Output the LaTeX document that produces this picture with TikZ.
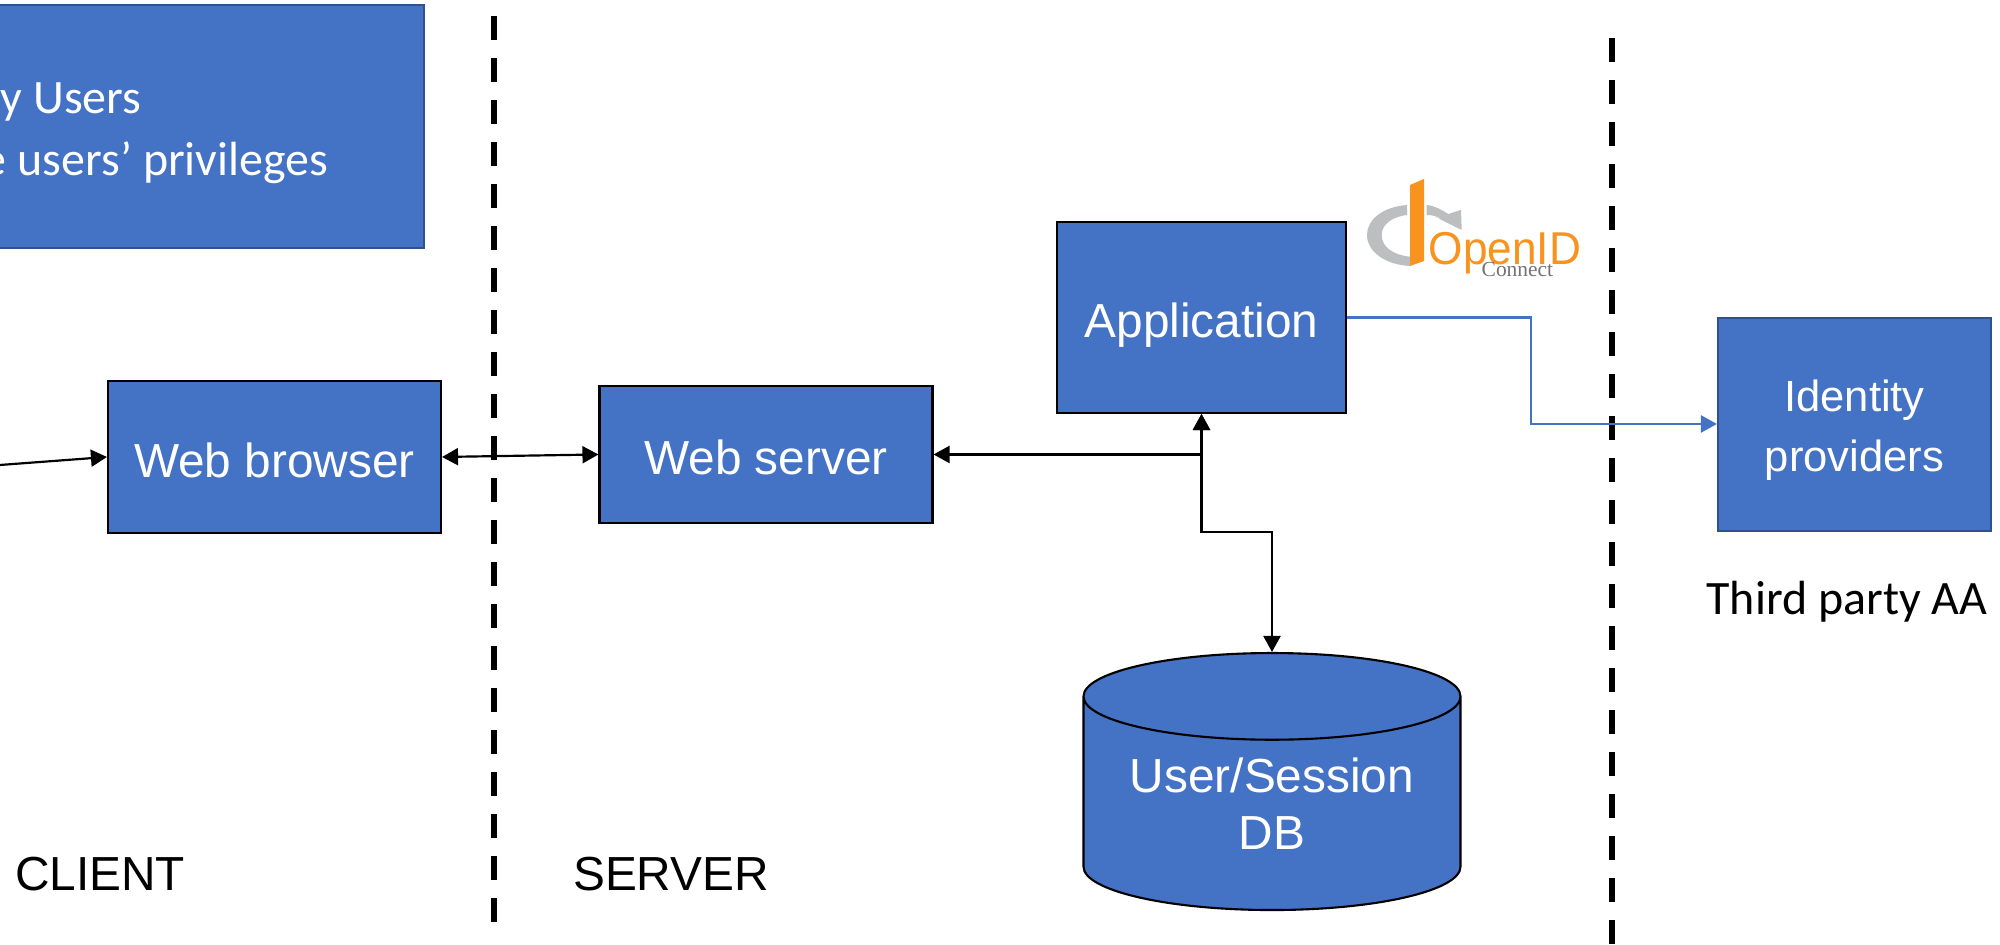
\documentclass[tikz,border=0pt]{standalone}
\usepackage{fontspec}
\setmainfont{Liberation Sans}
\newfontfamily\carlitofont{Carlito}
\newfontfamily\serifont{Liberation Serif}
\usetikzlibrary{arrows.meta,shapes.geometric}
\definecolor{boxblue}{HTML}{4472C4}
\definecolor{edgeblue}{HTML}{2F528F}
\definecolor{logoorange}{HTML}{F7931E}
\definecolor{logogray}{HTML}{BCBEC0}
\tikzset{
    blackbox/.style={draw=black, line width=0.6pt, fill=boxblue, text=white, inner sep=0pt,
        align=center, font=\fontsize{13.6}{16}\selectfont},
    singleline/.style={text height=11.4pt, text depth=0pt},
    bluebox/.style={draw=edgeblue, line width=0.6pt, fill=boxblue, text=white, inner sep=0pt,
        align=center, font=\fontsize{12.4}{17}\selectfont},
    boundary/.style={black, line width=1.7pt, dash pattern=on 0.24cm off 0.18cm},
    caption/.style={inner sep=0pt, font=\fontsize{13.6}{16}\selectfont},
    calibri/.style={inner sep=0pt, font=\carlitofont\fontsize{13.65}{17}\selectfont},
    link/.style={black, line width=0.62pt},
}
\begin{document}
\begin{tikzpicture}[>={Triangle[length=1.6mm,width=1.7mm]}]
    \useasboundingbox (0, 0) rectangle (20, 9.45);
    \clip (0, 0) rectangle (20, 9.45);
    \fill [white] (0, 0) rectangle (20, 9.45);
    % boxes
    \node (manage) [bluebox, minimum width=5.24cm, minimum height=2.43cm] at (1.62, 8.185) {};
    \node (usersa) [calibri, text=white, anchor=base east] at (1.42, 8.31) {y Users};
    \node (usersb) [calibri, text=white, anchor=base east] at (3.29, 7.69) {e users’ privileges};
    \node (browser) [blackbox, singleline, minimum width=3.33cm, minimum height=1.52cm] at (2.745, 4.88) {Web browser};
    \node (server) [blackbox, singleline, minimum width=3.33cm, minimum height=1.37cm] at (7.66, 4.905) {Web server};
    \node (app) [blackbox, singleline, minimum width=2.89cm, minimum height=1.91cm] at (12.015, 6.275) {Application};
    \node (idp) [bluebox, minimum width=2.73cm, minimum height=2.13cm] at (18.545, 5.205) {\rule{0pt}{12.3pt}Identity\\providers};
    \node (db) [blackbox, cylinder, shape border rotate=90, aspect=0.305, minimum width=3.77cm,
        minimum height=2.57cm, anchor=north] at (12.72, 2.93) {User/Session\\DB};
    % captions
    \node (client) [caption] at (1, 0.71) {CLIENT};
    \node (serverside) [caption] at (6.71, 0.71) {SERVER};
    \node (thirdparty) [calibri] at (18.47, 3.43) {Third party AA};
    % boundaries
    \coordinate (clienttop) at (4.94, 9.29);
    \coordinate (clientend) at (4.94, 0.2);
    \coordinate (thirdtop) at (16.12, 9.07);
    \coordinate (thirdend) at (16.12, 0);
    \draw [boundary] (clienttop) -- (clientend);
    \draw [boundary] (thirdtop) -- (thirdend);
    % links
    \coordinate (userend) at (0, 4.80);
    \coordinate (dbjoint) at (12.7, 4.13);
    \coordinate (bluejoint) at (15.31, 5.21);
    \draw [link, ->] (userend) -- (browser.west);
    \draw [link, <->] (browser.east) -- (server.west);
    \draw [link, <->] (server.east) -| (app.south);
    \draw [link, <->] (app.south) |- (dbjoint) -| (db.north);
    \draw [boxblue, line width=0.62pt, ->] (app.east) -| (bluejoint) -- (bluejoint -| idp.west);
    % logo
    \fill [logogray] (14.07, 7.40) .. controls (13.82, 7.38) and (13.67, 7.25) .. (13.67, 7.10)
        .. controls (13.67, 6.93) and (13.86, 6.80) .. (14.10, 6.79) -- (14.10, 6.883)
        .. controls (13.93, 6.90) and (13.817, 6.98) .. (13.817, 7.10)
        .. controls (13.817, 7.20) and (13.91, 7.28) .. (14.07, 7.30) -- cycle;
    \fill [logogray] (14.267, 7.40) .. controls (14.35, 7.39) and (14.42, 7.35) .. (14.483, 7.31)
        -- (14.61, 7.35) -- (14.617, 7.15) -- (14.35, 7.283) -- (14.42, 7.25)
        .. controls (14.38, 7.29) and (14.32, 7.30) .. (14.267, 7.30) -- cycle;
    \fill [logoorange] (14.10, 7.60) -- (14.24, 7.66) -- (14.24, 6.84) -- (14.10, 6.79) -- cycle;
    \node (openid) [inner sep=0pt, anchor=base west, text=logoorange, font=\fontsize{13.1}{14}\selectfont]
        at (14.28, 6.80) {\scalebox{0.96}[1]{OpenID}};
    \node (connect) [inner sep=0pt, anchor=base west, text=black!55, font=\serifont\fontsize{6.1}{7}\selectfont]
        at (14.81, 6.68) {Connect};
\end{tikzpicture}
\end{document}
